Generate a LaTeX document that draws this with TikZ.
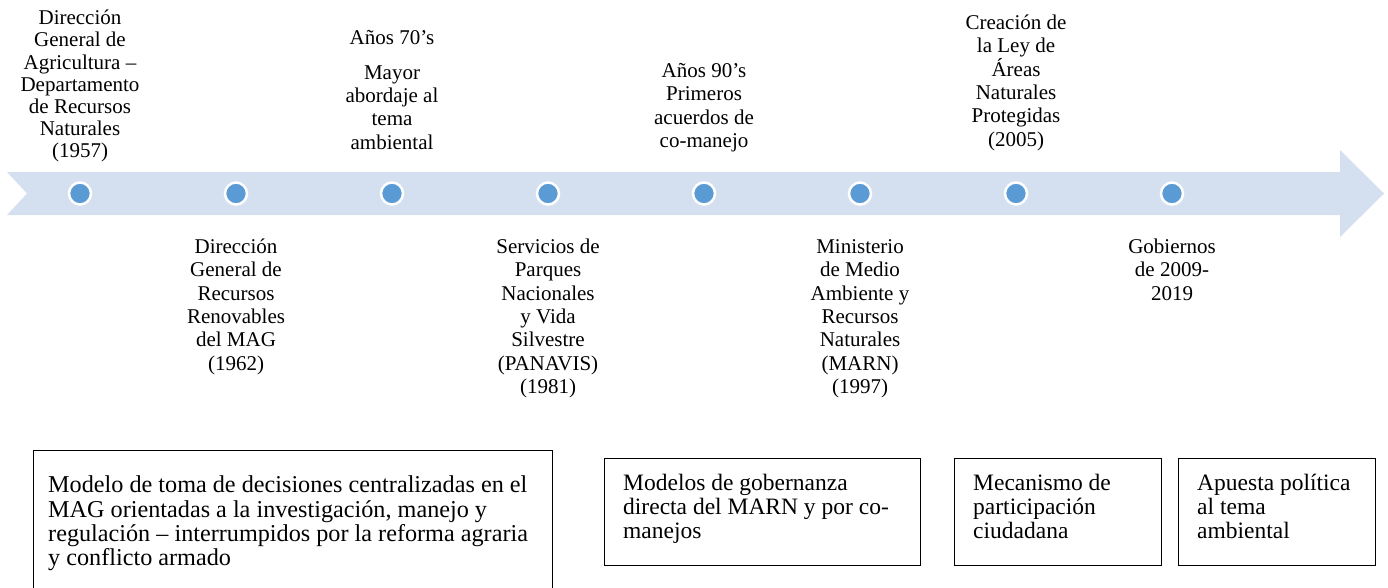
\documentclass[tikz,border=0pt]{standalone}
\usepackage{fontspec}
\setmainfont{Liberation Serif}
\definecolor{bandblue}{RGB}{212,223,240}
\definecolor{dotblue}{RGB}{91,155,213}
\tikzset{
  dot/.style={circle, fill=dotblue, draw=white, line width=2.5pt, minimum size=22pt, inner sep=0pt},
  lbl/.style={align=center, inner sep=0pt, anchor=north, font=\fontsize{21}{23.3}\selectfont},
  boxframe/.style={draw=black, line width=1.2pt, inner sep=0pt, anchor=north west},
  boxtxt/.style={align=left, inner sep=0pt, anchor=north west, font=\fontsize{23.5}{24}\selectfont}
}
\begin{document}
\begin{tikzpicture}[x=1pt, y=-1pt]
\useasboundingbox (0,0) rectangle (1388,587);
\clip (0,0) rectangle (1388,587);
% timeline band arrow
\fill[bandblue] (7,172) -- (1340,172) -- (1340,150) -- (1384,193.5) -- (1340,237) -- (1340,215) -- (7,215) -- (27,193.5) -- cycle;
% dots
\node[dot] (d1) at (80,193.5) {};
\node[dot] (d2) at (236,193.5) {};
\node[dot] (d3) at (392,193.5) {};
\node[dot] (d4) at (548,193.5) {};
\node[dot] (d5) at (704,193.5) {};
\node[dot] (d6) at (860,193.5) {};
\node[dot] (d7) at (1016,193.5) {};
\node[dot] (d8) at (1172,193.5) {};
% top labels
\node[lbl, font=\fontsize{21}{22.2}\selectfont] (t1) at (80,9) {\strut Dirección\\General de\\Agricultura \textendash\\Departamento\\de Recursos\\Naturales\\(1957)};
\node[lbl] (t3) at (392,28) {\strut Años 70’s\\[11.5pt]Mayor\\abordaje al\\tema\\ambiental};
\node[lbl] (t5) at (704,61) {\strut Años 90’s\\Primeros\\acuerdos de\\co-manejo};
\node[lbl] (t7) at (1016,13) {\strut Creación de\\la Ley de\\Áreas\\Naturales\\Protegidas\\(2005)};
% bottom labels
\node[lbl] (b2) at (236,237) {\strut Dirección\\General de\\Recursos\\Renovables\\del MAG\\(1962)};
\node[lbl] (b4) at (548,237) {\strut Servicios de\\Parques\\Nacionales\\y Vida\\Silvestre\\(PANAVIS)\\(1981)};
\node[lbl] (b6) at (860,237) {\strut Ministerio\\de Medio\\Ambiente y\\Recursos\\Naturales\\(MARN)\\(1997)};
\node[lbl] (b8) at (1172,237) {\strut Gobiernos\\de 2009-\\2019};
% boxes
\node[boxframe, minimum width=519pt, minimum height=150pt] (x1) at (33,450) {};
\node[boxtxt, font=\fontsize{24.2}{24}\selectfont] (x1t) at (48,475) {\strut Modelo de toma de decisiones centralizadas en el\\MAG orientadas a la investigación, manejo y\\regulación \textendash{} interrumpidos por la reforma agraria\\y conflicto armado};
\node[boxframe, minimum width=316pt, minimum height=107pt] (x2) at (604,458) {};
\node[boxtxt] (x2t) at (623,473) {\strut Modelos de gobernanza\\directa del MARN y por co-\\manejos};
\node[boxframe, minimum width=207pt, minimum height=107pt] (x3) at (954,458) {};
\node[boxtxt] (x3t) at (973,473) {\strut Mecanismo de\\participación\\ciudadana};
\node[boxframe, minimum width=197pt, minimum height=107pt] (x4) at (1178,458) {};
\node[boxtxt] (x4t) at (1197,473) {\strut Apuesta política\\al tema\\ambiental};
\end{tikzpicture}
\end{document}
